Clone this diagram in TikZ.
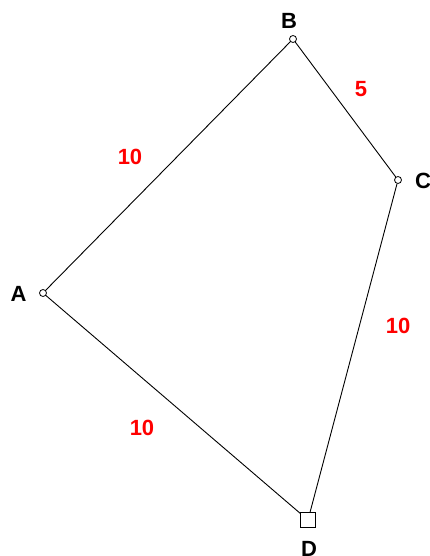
\documentclass[tikz,border=0pt]{standalone}
\usepackage{fontspec}
\setmainfont{Liberation Sans}
\usepackage{tikz}
\usetikzlibrary{positioning}
\definecolor{myred}{RGB}{255,0,0}
\definecolor{mydark}{RGB}{0,0,0}
\tikzset{
  joint/.style={circle, draw=mydark, fill=white, inner sep=0pt,
    minimum size=7pt, line width=0.8pt},
  ground/.style={rectangle, draw=mydark, fill=white, inner sep=0pt,
    minimum size=14.5pt, line width=0.8pt},
  ptlabel/.style={font=\fontsize{22}{26}\selectfont\bfseries, text=mydark},
  lenlabel/.style={font=\fontsize{22}{26}\selectfont\bfseries, text=myred},
  bar/.style={line width=0.9pt, color=mydark}
}
\begin{document}
\begin{tikzpicture}[x=1pt, y=-1pt]
  \useasboundingbox (0,0) rectangle (429,556);

  % Joints
  \node[joint] (A) at (43,293) {};
  \node[joint] (B) at (293,39) {};
  \node[joint] (C) at (398,180) {};
  \node[ground] (D) at (308,520) {};

  % Bars
  \draw[bar] (A) -- (B);
  \draw[bar] (B) -- (C);
  \draw[bar] (C) -- (D);
  \draw[bar] (A) -- (D);

  % Joint names
  \node[ptlabel] (labA) at (18.5,293.5) {A};
  \node[ptlabel] (labB) at (289,20.5) {B};
  \node[ptlabel] (labC) at (423,180.5) {C};
  \node[ptlabel] (labD) at (309,549) {D};

  % Bar lengths
  \node[lenlabel] (lenAB) at (130,157) {10};
  \node[lenlabel] (lenBC) at (361,89) {5};
  \node[lenlabel] (lenCD) at (398,326) {10};
  \node[lenlabel] (lenAD) at (142,428) {10};
\end{tikzpicture}
\end{document}
